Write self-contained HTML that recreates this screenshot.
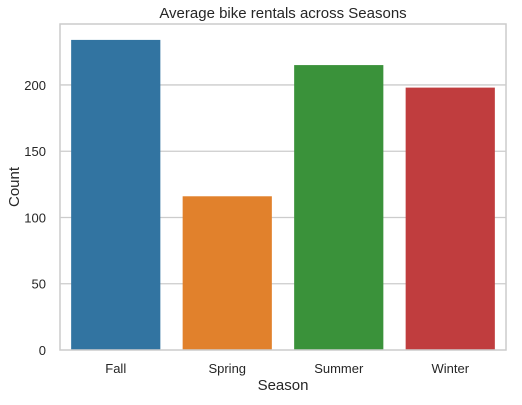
<!DOCTYPE html>
<html><head><meta charset="utf-8"><style>
body{margin:0;background:#fff;font-family:"Liberation Sans",sans-serif}
</style></head><body>
<svg id="chart" width="522" height="400" xmlns="http://www.w3.org/2000/svg" font-family="Liberation Sans, sans-serif"></svg>
<script>
const categories=["Fall","Spring","Summer","Winter"];
const values=[234,116,215,198];
const colors=["#3274a1","#e1812c","#3a923a","#c03d3e"];
const yTicks=[0,50,100,150,200];
const NS="http://www.w3.org/2000/svg";
const svg=document.getElementById('chart');
const L=60,R=506,T=24,B=350,yMax=246;
const y=v=>B-(v/yMax)*(B-T);
const bw=(R-L)/categories.length;
const x=i=>L+bw*i;
function mk(t,a,txt){const e=document.createElementNS(NS,t);for(const k in a)e.setAttribute(k,a[k]);if(txt!=null)e.textContent=txt;svg.appendChild(e);return e;}
yTicks.forEach(v=>{
  if(v>0){const g=mk('line',{x1:L,x2:R,y1:y(v),y2:y(v),stroke:'#cccccc','stroke-width':1.3});
  
  }
  const t=mk('text',{x:L-14,y:y(v)+5,'text-anchor':'end','font-size':13,fill:'#262626'},v);
  
  
});
categories.forEach((c,i)=>{
  const b=mk('rect',{x:x(i)+bw*0.1,y:y(values[i]),width:bw*0.8,height:B-y(values[i]),fill:colors[i]});
  
  
  const t=mk('text',{x:x(i)+bw/2,y:B+23,'text-anchor':'middle','font-size':13,fill:'#262626'},c);
  
  
});
const f=mk('rect',{x:L,y:T,width:R-L,height:B-T,fill:'none',stroke:'#cccccc','stroke-width':1.5});


const tt=mk('text',{x:(L+R)/2,y:18,'text-anchor':'middle','font-size':15,fill:'#262626'},'Average bike rentals across Seasons');


const xt=mk('text',{x:(L+R)/2,y:390,'text-anchor':'middle','font-size':15,fill:'#262626'},'Season');


const yt=mk('text',{x:19,y:(T+B)/2,'text-anchor':'middle','font-size':15,fill:'#262626',transform:'rotate(-90 19 '+((T+B)/2)+')'},'Count');


</script>
</body></html>
